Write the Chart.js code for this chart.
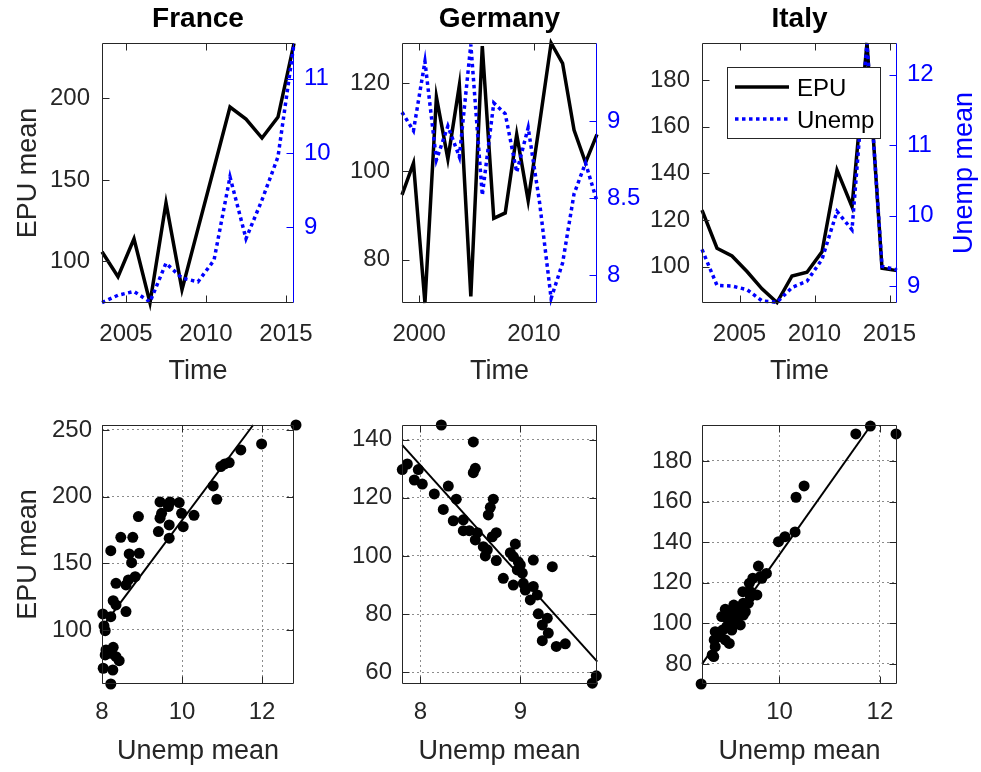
<!DOCTYPE html>
<html>
<head>
<meta charset="utf-8">
<title>EPU and unemployment</title>
<script src="https://cdn.jsdelivr.net/npm/chart.js@4.4.1/dist/chart.umd.min.js"></script>
<style>
  html, body { margin: 0; padding: 0; background: #fff; overflow: hidden; }
  #fig { position: relative; width: 981px; height: 772px; }
  #fig canvas { position: absolute; }
</style>
</head>
<body>
<div id="fig">
  <canvas id="frTime" width="350" height="400" style="left:0px;top:0px"></canvas>
  <canvas id="deTime" width="320" height="400" style="left:330px;top:0px"></canvas>
  <canvas id="itTime" width="351" height="400" style="left:630px;top:0px"></canvas>
  <canvas id="frScat" width="320" height="372" style="left:0px;top:400px"></canvas>
  <canvas id="deScat" width="300" height="372" style="left:330px;top:400px"></canvas>
  <canvas id="itScat" width="351" height="372" style="left:630px;top:400px"></canvas>
</div>
<script>
// ---- time series (yearly means, plotted mid-year) ----
const frYears = [2003.5, 2004.5, 2005.5, 2006.5, 2007.5, 2008.5, 2009.5, 2010.5, 2011.5, 2012.5, 2013.5, 2014.5, 2015.5];
const frEpu = [105.9, 90.6, 113.9, 74.7, 135.9, 82.7, 120.1, 157.3, 194.7, 187.3, 175.7, 188.6, 233.8];
const frUnemp = [7.99, 8.09, 8.14, 8.0, 8.52, 8.32, 8.27, 8.56, 9.68, 8.85, 9.37, 9.95, 11.47];

const deYears = [1998.5, 1999.5, 2000.5, 2001.5, 2002.5, 2003.5, 2004.5, 2005.5, 2006.5, 2007.5, 2008.5, 2009.5, 2010.5, 2011.5, 2012.5, 2013.5, 2014.5, 2015.5];
const deEpu = [94.7, 101.9, 70.2, 116.9, 102.8, 119.5, 71.7, 128.4, 89.4, 90.6, 108.4, 93.4, 111.0, 129.1, 124.5, 109.4, 102.0, 108.4];
const deUnemp = [9.06, 8.94, 9.39, 8.75, 8.97, 8.77, 9.50, 8.52, 9.12, 9.05, 8.67, 8.96, 8.47, 7.85, 8.08, 8.53, 8.73, 8.48];

const itYears = [2002.5, 2003.5, 2004.5, 2005.5, 2006.5, 2007.5, 2008.5, 2009.5, 2010.5, 2011.5, 2012.5, 2013.5, 2014.5, 2015.5];
const itEpu = [124.3, 107.9, 104.6, 97.9, 90.5, 84.6, 96.0, 97.6, 106.4, 141.4, 125.7, 196.0, 99.3, 98.3];
const itUnemp = [9.52, 9.01, 9.0, 8.95, 8.79, 8.77, 8.98, 9.07, 9.38, 10.06, 9.8, 12.45, 9.28, 9.23];

// ---- scatter: unemployment mean vs EPU mean ----
const frScatX = [12.85, 11.99, 11.47, 10.97, 11.07, 11.18, 10.78, 10.87, 10.30, 9.93, 9.99, 10.03, 9.70, 9.66, 9.45, 9.49, 9.45, 9.68, 9.41, 9.68, 8.91, 8.47, 8.77, 8.22, 8.68, 8.93, 8.74, 8.83, 8.66, 8.60, 8.35, 8.28, 8.35, 8.02, 8.22, 8.60, 8.05, 8.08, 8.28, 8.10, 8.22, 8.08, 8.35, 8.43, 8.03, 8.27, 8.22];
const frScatY = [253.7, 239.5, 235, 222.5, 224.5, 225.5, 208, 198, 186, 195.5, 187.5, 177.5, 196, 192.5, 196, 187.5, 183.8, 178.8, 173.8, 168.8, 185, 169.5, 169.5, 159.5, 157, 157.5, 150.5, 140, 137.5, 133.8, 135, 122, 118.8, 112, 110, 113.8, 103, 99.5, 87, 85, 82.5, 81.3, 80, 77, 71.3, 70, 59.5];
const frFitX = [8.0, 11.78];
const frFitY = [102, 253.7];

const deScatX = [8.21, 8.53, 8.53, 8.55, 7.82, 7.87, 7.98, 7.94, 8.02, 8.14, 8.28, 8.36, 8.73, 8.70, 8.68, 8.23, 8.33, 8.43, 8.43, 8.49, 8.57, 8.55, 8.72, 8.76, 8.63, 8.67, 8.65, 8.76, 8.90, 8.95, 8.93, 8.83, 8.93, 8.97, 9.02, 8.98, 9.00, 9.03, 9.05, 9.13, 9.32, 9.13, 9.10, 9.17, 9.18, 9.27, 9.22, 9.28, 9.22, 9.36, 9.45, 9.72, 9.76];
const deScatY = [145, 139.2, 128.6, 130.1, 129.7, 131.6, 129.7, 126.1, 124.7, 121.3, 124, 119.5, 119.5, 116.7, 114.1, 116, 112.1, 112.4, 108.7, 108.7, 108, 105.5, 106.6, 108, 103.2, 102.1, 100, 98.4, 101.1, 104.1, 99.8, 92.3, 90, 95.2, 94.1, 98, 96.9, 90.6, 88.3, 98.6, 96.3, 89.5, 84.9, 86.6, 80.1, 78.6, 76.3, 73.5, 70.9, 68.9, 69.8, 56.3, 58.8];
const deFitX = [7.82, 9.77];
const deFitY = [138.1, 63.7];

const itScatX = [8.44, 11.81, 11.52, 12.32, 10.49, 10.33, 10.31, 10.11, 9.98, 9.58, 9.74, 9.65, 9.47, 9.40, 9.55, 9.27, 9.38, 9.32, 9.09, 8.92, 9.02, 9.15, 9.22, 8.95, 9.02, 8.87, 9.05, 9.00, 8.72, 8.70, 8.72, 8.66, 8.69, 8.95, 9.28, 9.42, 9.12, 8.85, 9.15, 9.28, 9.42, 9.62, 8.80, 8.92, 9.25];
const itScatY = [70.1, 197.2, 193.3, 193.3, 167.7, 162.1, 145, 142.7, 140.2, 128.2, 124.6, 122.2, 122.2, 119.7, 114, 115.6, 109.9, 105.7, 109, 106.9, 104.6, 101.3, 99.2, 102.5, 100, 96.7, 96.7, 90.1, 95.9, 91.8, 88.5, 84.4, 83.6, 98.4, 109.9, 115.6, 104.1, 103.3, 104.9, 104.1, 113.1, 123, 93.4, 91.8, 108.2];
const itFitX = [8.46, 11.81];
const itFitY = [80, 197.2];

// ---- tick labels ----
const frTimeTicks = [2005, 2010, 2015];
const deTimeTicks = [2000, 2010];
const itTimeTicks = [2005, 2010, 2015];
const frEpuTicks = [100, 150, 200];
const deEpuTicks = [80, 100, 120];
const itEpuTicks = [100, 120, 140, 160, 180];
const frUnempTicks = [9, 10, 11];
const deUnempTicks = [8, 8.5, 9];
const itUnempTicks = [9, 10, 11, 12];
const frScatXTicks = [8, 10, 12];
const deScatXTicks = [8, 9];
const itScatXTicks = [10, 12];
const frScatYTicks = [100, 150, 200, 250];
const deScatYTicks = [60, 80, 100, 120, 140];
const itScatYTicks = [80, 100, 120, 140, 160, 180];

const TEXT = '#262626';
const BLUE = '#0000ff';
const FONT = '"Liberation Sans", Arial, Helvetica, sans-serif';

Chart.defaults.font.family = FONT;
Chart.defaults.color = TEXT;

const pts = (xs, ys) => xs.map((x, i) => ({ x: x, y: ys[i] }));
const fixTicks = list => scale => { scale.ticks = list.map(v => ({ value: v })); };
const plain = v => String(v);

// matlab style box with inward tick marks
const boxPlugin = {
    id: 'box',
    afterDatasetsDraw(chart) {
        const { ctx, chartArea: a, scales } = chart;
        const L = 7;
        const l = Math.round(a.left) + 0.5, r = Math.round(a.right) - 0.5;
        const t = Math.round(a.top) + 0.5, b = Math.round(a.bottom) - 0.5;
        ctx.save();
        ctx.lineWidth = 1;
        ctx.strokeStyle = TEXT;
        ctx.beginPath();
        ctx.moveTo(r, b); ctx.lineTo(l, b); ctx.lineTo(l, t); ctx.lineTo(r, t);
        if (!scales.y2) ctx.lineTo(r, b);
        scales.x.ticks.forEach(tk => {
            const px = Math.round(scales.x.getPixelForValue(tk.value)) + 0.5;
            ctx.moveTo(px, b); ctx.lineTo(px, b - L);
            ctx.moveTo(px, t); ctx.lineTo(px, t + L);
        });
        scales.y.ticks.forEach(tk => {
            const py = Math.round(scales.y.getPixelForValue(tk.value)) + 0.5;
            ctx.moveTo(l, py); ctx.lineTo(l + L, py);
            if (!scales.y2) { ctx.moveTo(r, py); ctx.lineTo(r - L, py); }
        });
        ctx.stroke();
        if (scales.y2) {
            ctx.strokeStyle = BLUE;
            ctx.beginPath();
            ctx.moveTo(r, t); ctx.lineTo(r, b);
            scales.y2.ticks.forEach(tk => {
                const py = Math.round(scales.y2.getPixelForValue(tk.value)) + 0.5;
                ctx.moveTo(r, py); ctx.lineTo(r - L, py);
            });
            ctx.stroke();
        }
        ctx.restore();
    }
};

// legend box inside the Italy panel
const boxLegend = {
    id: 'boxLegend',
    afterDraw(chart, args, opts) {
        if (!opts.show) return;
        const { ctx, chartArea: a } = chart;
        const x0 = Math.round(a.left) + 25, y0 = Math.round(a.top) + 24, w = 153, h = 71;
        ctx.save();
        ctx.fillStyle = '#fff';
        ctx.fillRect(x0, y0, w, h);
        ctx.lineWidth = 1;
        ctx.strokeStyle = TEXT;
        ctx.strokeRect(x0 + 0.5, y0 + 0.5, w, h);
        chart.data.datasets.forEach((ds, i) => {
            const cy = y0 + 20 + i * 32;
            ctx.strokeStyle = ds.borderColor;
            ctx.lineWidth = ds.borderWidth;
            ctx.setLineDash(ds.borderDash || []);
            ctx.beginPath();
            ctx.moveTo(x0 + 8, cy); ctx.lineTo(x0 + 62, cy);
            ctx.stroke();
            ctx.setLineDash([]);
            ctx.fillStyle = '#000';
            ctx.font = '24px ' + FONT;
            ctx.textBaseline = 'middle';
            ctx.fillText(ds.label, x0 + 70, cy + 2);
        });
        ctx.restore();
    }
};

// right axis title reading bottom to top
const sideTitle = {
    id: 'sideTitle',
    afterDraw(chart, args, opts) {
        if (!opts.text) return;
        const { ctx, chartArea: a } = chart;
        ctx.save();
        ctx.translate(a.right + 68, (a.top + a.bottom) / 2);
        ctx.rotate(-Math.PI / 2);
        ctx.font = '27px ' + FONT;
        ctx.fillStyle = BLUE;
        ctx.textAlign = 'center';
        ctx.textBaseline = 'middle';
        ctx.fillText(opts.text, 0, 0);
        ctx.restore();
    }
};

function timeChart(id, c) {
    return new Chart(document.getElementById(id), {
        type: 'line',
        data: {
            datasets: [
                { label: 'EPU', data: pts(c.years, c.epu), yAxisID: 'y', borderColor: '#000', borderWidth: 3.5,
                  pointRadius: 0, tension: 0, clip: false, order: 1 },
                { label: 'Unemp', data: pts(c.years, c.unemp), yAxisID: 'y2', borderColor: BLUE, borderWidth: 3.5,
                  borderDash: [3.5, 3.5], pointRadius: 0, tension: 0, clip: false, order: 0 }
            ]
        },
        options: {
            responsive: false,
            animation: false,
            layout: { padding: 0 },
            plugins: {
                legend: { display: false },
                tooltip: { enabled: false },
                title: {
                    display: true, text: c.title, fullSize: false, color: '#000',
                    font: { size: 28, weight: 'bold', lineHeight: 1 },
                    padding: { top: 5, bottom: 10 }
                },
                boxLegend: { show: !!c.legend },
                sideTitle: { text: c.rightTitle || '' }
            },
            scales: {
                x: {
                    type: 'linear', bounds: 'data', min: c.xMin, max: c.xMax,
                    afterBuildTicks: fixTicks(c.xTicks),
                    afterFit: s => { s.height = 97; },
                    grid: { display: false, drawTicks: false }, border: { display: false },
                    ticks: { padding: 17, font: { size: 24 }, color: TEXT, callback: plain, autoSkip: false, maxRotation: 0 },
                    title: { display: true, text: 'Time', font: { size: 27 }, color: TEXT, padding: { top: 0, bottom: 12 } }
                },
                y: {
                    position: 'left', bounds: 'data', min: c.yMin, max: c.yMax,
                    afterBuildTicks: fixTicks(c.yTicks),
                    afterFit: s => { s.width = c.yW; },
                    grid: { display: false, drawTicks: false }, border: { display: false },
                    ticks: { padding: 12, font: { size: 24 }, color: TEXT, callback: plain, autoSkip: false },
                    title: { display: !!c.yTitle, text: c.yTitle || '', font: { size: 27 }, color: TEXT, padding: { top: 12 } }
                },
                y2: {
                    position: 'right', bounds: 'data', min: c.y2Min, max: c.y2Max,
                    afterBuildTicks: fixTicks(c.y2Ticks),
                    afterFit: s => { s.width = c.y2W; },
                    grid: { display: false, drawTicks: false }, border: { display: false },
                    ticks: { padding: 10, font: { size: 24 }, color: BLUE, callback: plain, autoSkip: false }
                }
            }
        },
        plugins: [boxPlugin, boxLegend, sideTitle]
    });
}

function scatterChart(id, c) {
    const gridOpts = { color: '#8c8c8c', lineWidth: 1, drawTicks: false };
    const borderOpts = { display: false, dash: [2, 3] };
    return new Chart(document.getElementById(id), {
        type: 'scatter',
        data: {
            datasets: [
                { data: pts(c.xs, c.ys), pointRadius: 5.5, pointBackgroundColor: '#000', pointBorderWidth: 0, clip: false },
                { data: pts(c.fitX, c.fitY), showLine: true, borderColor: '#000', borderWidth: 2, pointRadius: 0, clip: false }
            ]
        },
        options: {
            responsive: false,
            animation: false,
            layout: { padding: { top: 25, right: c.padRight, left: 0, bottom: 0 } },
            plugins: { legend: { display: false }, tooltip: { enabled: false } },
            scales: {
                x: {
                    type: 'linear', bounds: 'data', min: c.xMin, max: c.xMax,
                    afterBuildTicks: fixTicks(c.xTicks),
                    afterFit: s => { s.height = 88; },
                    grid: gridOpts, border: borderOpts,
                    ticks: { padding: 14, font: { size: 24 }, color: TEXT, callback: plain, autoSkip: false, maxRotation: 0 },
                    title: { display: true, text: 'Unemp mean', font: { size: 27 }, color: TEXT, padding: { top: 0, bottom: 4 } }
                },
                y: {
                    type: 'linear', bounds: 'data', min: c.yMin, max: c.yMax,
                    afterBuildTicks: fixTicks(c.yTicks),
                    afterFit: s => { s.width = c.yW; },
                    grid: gridOpts, border: borderOpts,
                    ticks: { padding: 10, font: { size: 24 }, color: TEXT, callback: plain, autoSkip: false },
                    title: { display: !!c.yTitle, text: c.yTitle || '', font: { size: 27 }, color: TEXT, padding: { top: 12 } }
                }
            }
        },
        plugins: [boxPlugin]
    });
}

timeChart('frTime', {
    title: 'France', years: frYears, epu: frEpu, unemp: frUnemp,
    xMin: 2003.5, xMax: 2015.5, xTicks: frTimeTicks,
    yMin: 74.5, yMax: 234, yTicks: frEpuTicks, yW: 102, yTitle: 'EPU mean',
    y2Min: 7.985, y2Max: 11.48, y2Ticks: frUnempTicks, y2W: 56
});
timeChart('deTime', {
    title: 'Germany', years: deYears, epu: deEpu, unemp: deUnemp,
    xMin: 1998.5, xMax: 2015.5, xTicks: deTimeTicks,
    yMin: 70.2, yMax: 129.1, yTicks: deEpuTicks, yW: 72,
    y2Min: 7.82, y2Max: 9.51, y2Ticks: deUnempTicks, y2W: 53
});
timeChart('itTime', {
    title: 'Italy', years: itYears, epu: itEpu, unemp: itUnemp,
    xMin: 2002.5, xMax: 2015.5, xTicks: itTimeTicks,
    yMin: 84.4, yMax: 196, yTicks: itEpuTicks, yW: 72,
    y2Min: 8.76, y2Max: 12.45, y2Ticks: itUnempTicks, y2W: 84,
    legend: true, rightTitle: 'Unemp mean'
});

scatterChart('frScat', {
    xs: frScatX, ys: frScatY, fitX: frFitX, fitY: frFitY,
    xMin: 8, xMax: 12.8, xTicks: frScatXTicks,
    yMin: 59.5, yMax: 253.7, yTicks: frScatYTicks, yW: 102, padRight: 26, yTitle: 'EPU mean'
});
scatterChart('deScat', {
    xs: deScatX, ys: deScatY, fitX: deFitX, fitY: deFitY,
    xMin: 7.817, xMax: 9.767, xTicks: deScatXTicks,
    yMin: 56.0, yMax: 145, yTicks: deScatYTicks, yW: 72, padRight: 33
});
scatterChart('itScat', {
    xs: itScatX, ys: itScatY, fitX: itFitX, fitY: itFitY,
    xMin: 8.457, xMax: 12.34, xTicks: itScatXTicks,
    yMin: 70.1, yMax: 197.7, yTicks: itScatYTicks, yW: 72, padRight: 84
});
</script>
</body>
</html>
